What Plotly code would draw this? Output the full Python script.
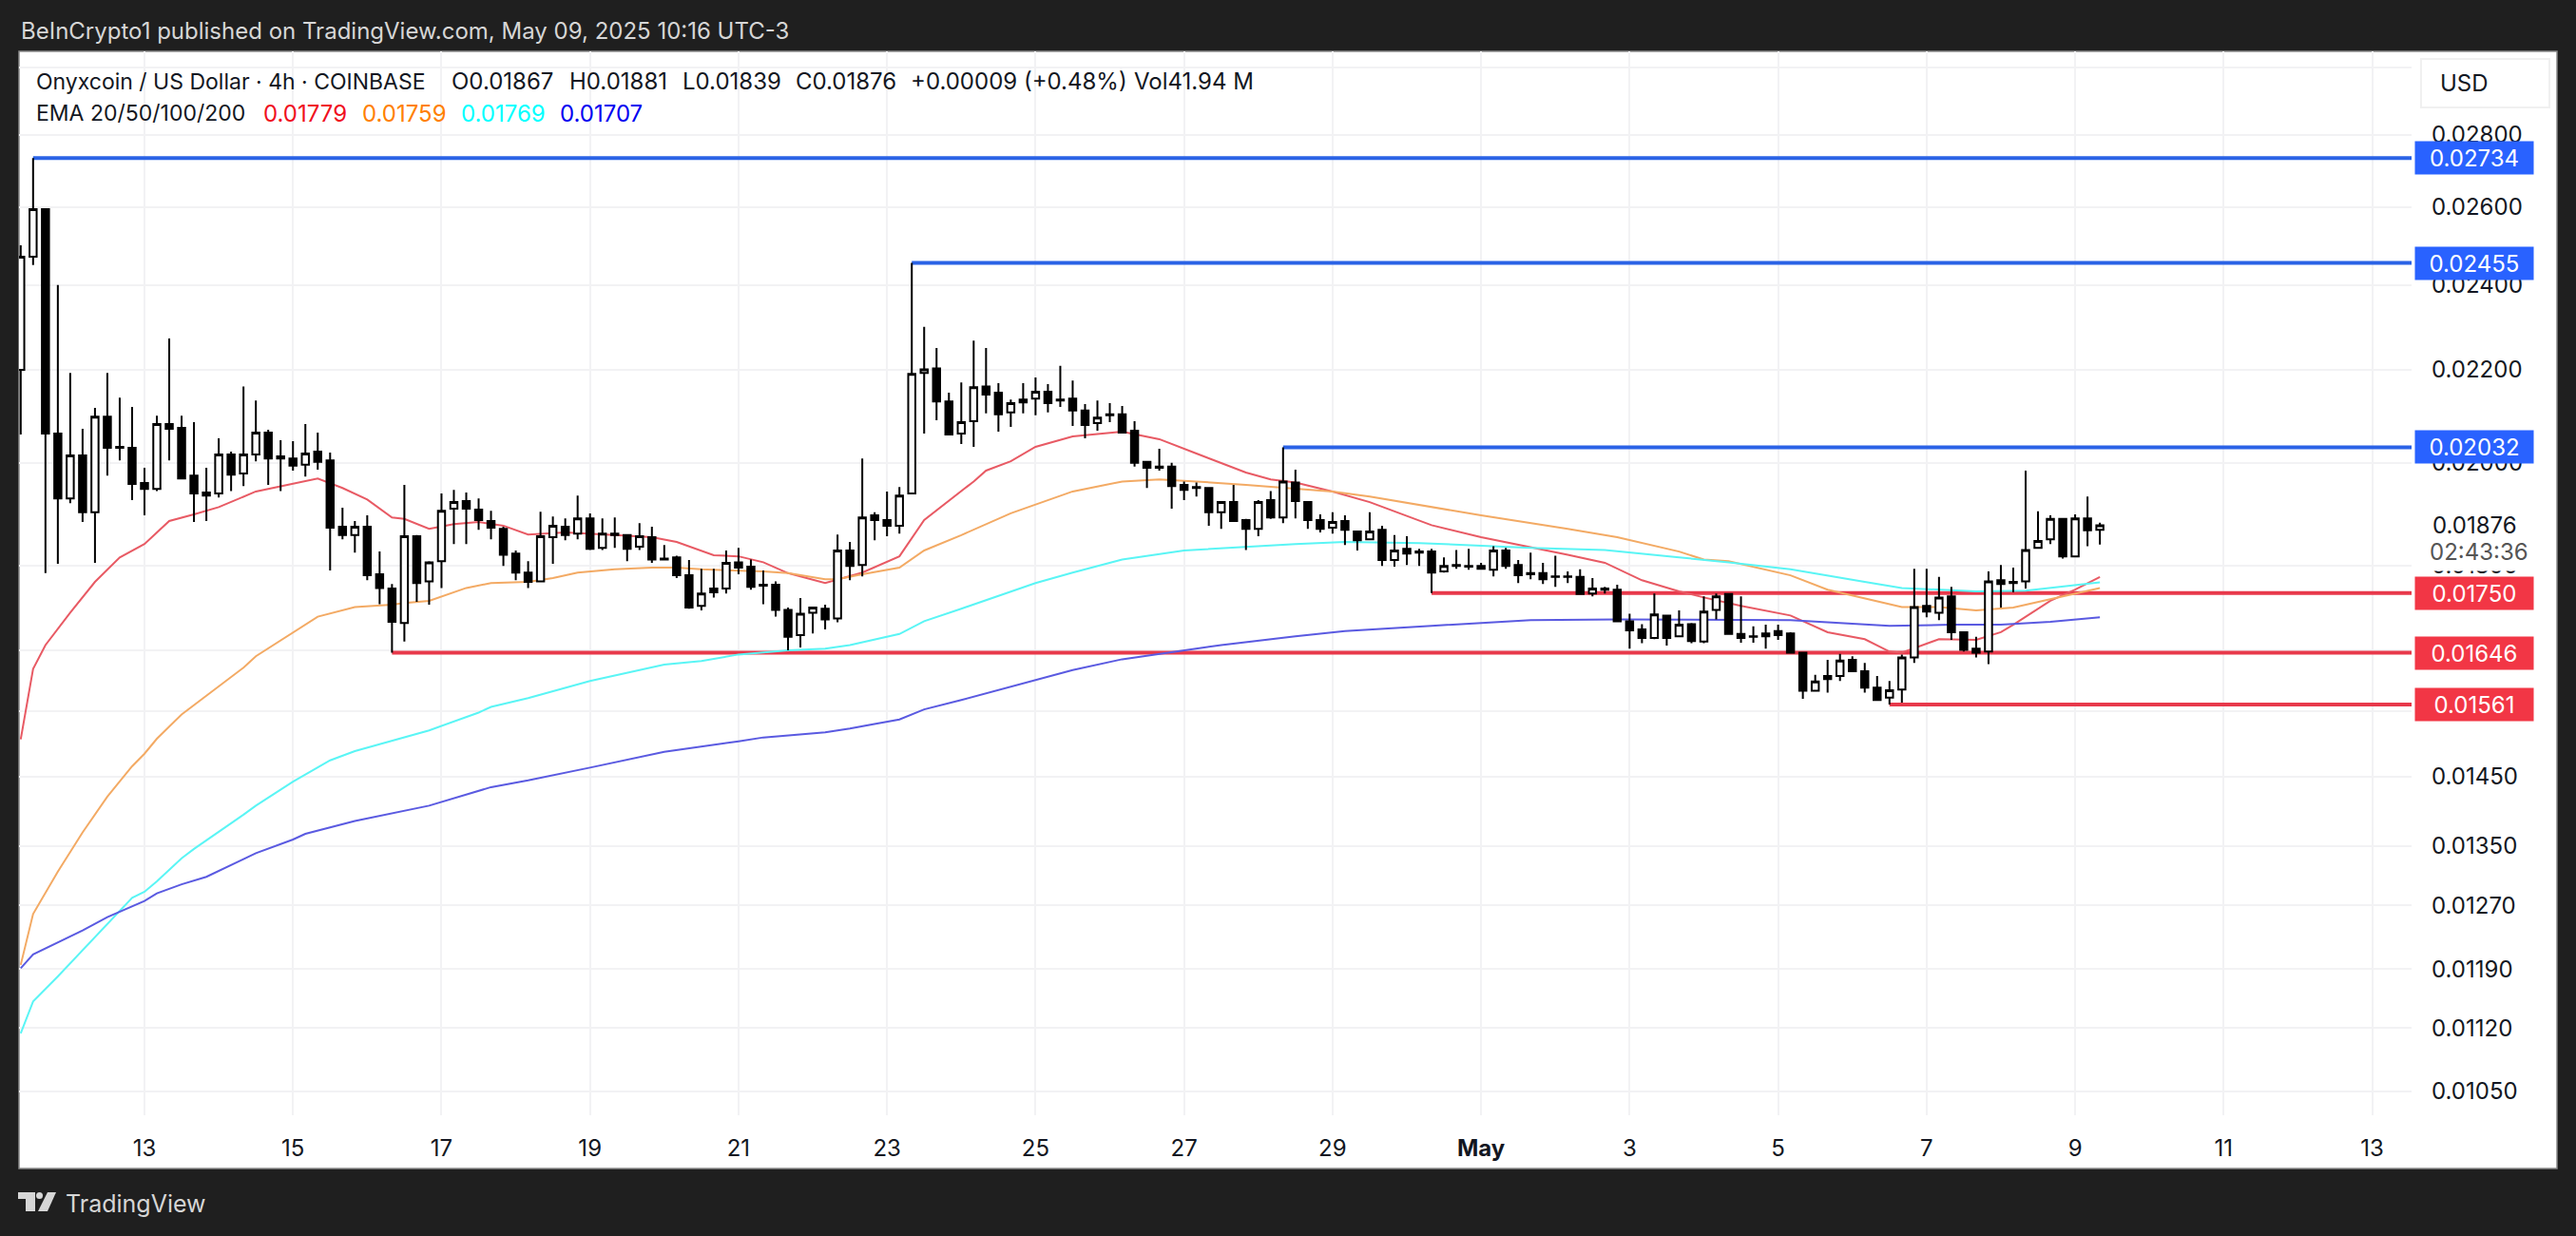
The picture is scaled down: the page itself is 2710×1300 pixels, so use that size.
import numpy as np
import pandas as pd
import plotly.graph_objects as go

# velas de 4h, la primera es la del 11 de abril 08:00
first_bar = pd.Timestamp("2025-04-11 08:00")
first_k = -10

bar_open = [
    .02200, .02471, .02594, .02061, .01928, .02015, .01901, .02097, .02033, .02031,
    .01959, .01947, .02081, .02073, .01974, .01940, .01938, .02017, .01978, .02017,
    .02063, .02013, .02009, .01996, .02023, .02005, .01873, .01857, .01873, .01784,
    .01758, .01697, .01855, .01771, .01808, .01908, .01923, .01906, .01884, .01869,
    .01822, .01787, .01771, .01853, .01873, .01860, .01889, .01833, .01860, .01857,
    .01835, .01853, .01813, .01815, .01782, .01727, .01758, .01758, .01806, .01798,
    .01765, .01765, .01720, .01676, .01715, .01722, .01705, .01828, .01801, .01895,
    .01886, .01875, .01938, .02193, .02203, .02130, .02061, .02087, .02163, .02149,
    .02106, .02128, .02136, .02151, .02134, .02136, .02110, .02083, .02102, .02102,
    .02067, .02002, .01992, .01992, .01955, .01951, .01949, .01901, .01921, .01886,
    .01869, .01925, .01891, .01960, .01921, .01886, .01871, .01884, .01864, .01849,
    .01867, .01810, .01831, .01826, .01826, .01789, .01801, .01799, .01799, .01792,
    .01828, .01801, .01786, .01786, .01780, .01780, .01779, .01749, .01758, .01756,
    .01700, .01686, .01671, .01710, .01674, .01695, .01665, .01720, .01748, .01678,
    .01674, .01674, .01683, .01679, .01646, .01583, .01607, .01607, .01634, .01615,
    .01588, .01572, .01585, .01638, .01727, .01715, .01744, .01681, .01653, .01648,
    .01773, .01770, .01771, .01833, .01849, .01888, .01817, .01889, .01867,
]
bar_high = [
    .02500, .02734, .02597, .02400, .02193, .02071, .02116, .02193, .02138, .02118,
    .01990, .02099, .02272, .02099, .02085, .01990, .02051, .02023, .02163, .02132,
    .02069, .02047, .02045, .02081, .02063, .02021, .01910, .01884, .01895, .01826,
    .01766, .01955, .01857, .01808, .01938, .01945, .01940, .01928, .01904, .01873,
    .01828, .01808, .01902, .01893, .01889, .01934, .01899, .01889, .01891, .01857,
    .01880, .01873, .01838, .01818, .01810, .01794, .01794, .01828, .01833, .01811,
    .01791, .01771, .01724, .01741, .01725, .01729, .01858, .01844, .02009, .01901,
    .01942, .01951, .02455, .02299, .02250, .02149, .02172, .02267, .02250, .02170,
    .02134, .02170, .02183, .02168, .02209, .02176, .02124, .02132, .02126, .02120,
    .02087, .02002, .02029, .02000, .01962, .01960, .01949, .01923, .01955, .01888,
    .01925, .01943, .02032, .01986, .01921, .01897, .01901, .01895, .01864, .01901,
    .01875, .01857, .01855, .01831, .01831, .01815, .01829, .01831, .01805, .01836,
    .01833, .01810, .01824, .01805, .01818, .01789, .01793, .01777, .01761, .01765,
    .01713, .01695, .01749, .01710, .01719, .01697, .01744, .01749, .01748, .01744,
    .01691, .01694, .01694, .01681, .01646, .01609, .01634, .01644, .01640, .01629,
    .01607, .01599, .01643, .01794, .01794, .01779, .01761, .01682, .01673, .01789,
    .01801, .01796, .01984, .01903, .01895, .01889, .01897, .01932, .01881,
]
bar_low = [
    .02059, .02450, .01786, .01803, .01919, .01882, .01805, .01974, .02005, .01925,
    .01895, .01943, .02005, .01966, .01882, .01884, .01930, .01943, .01953, .02003,
    .01955, .01943, .01984, .01972, .01986, .01791, .01849, .01824, .01773, .01730,
    .01646, .01665, .01734, .01729, .01759, .01840, .01840, .01867, .01849, .01799,
    .01773, .01759, .01770, .01803, .01847, .01849, .01829, .01829, .01833, .01808,
    .01829, .01805, .01811, .01777, .01722, .01719, .01742, .01749, .01784, .01756,
    .01730, .01708, .01650, .01655, .01679, .01686, .01698, .01773, .01780, .01847,
    .01855, .01860, .01938, .02061, .02089, .02059, .02039, .02033, .02104, .02065,
    .02075, .02104, .02100, .02106, .02118, .02077, .02051, .02067, .02085, .02063,
    .01992, .01949, .01984, .01908, .01925, .01932, .01875, .01869, .01884, .01829,
    .01855, .01888, .01880, .01889, .01869, .01862, .01860, .01838, .01828, .01847,
    .01799, .01798, .01801, .01799, .01750, .01787, .01794, .01792, .01792, .01780,
    .01794, .01768, .01775, .01766, .01761, .01768, .01748, .01744, .01749, .01700,
    .01653, .01662, .01669, .01658, .01674, .01662, .01662, .01703, .01678, .01663,
    .01663, .01653, .01668, .01646, .01570, .01583, .01580, .01599, .01614, .01580,
    .01568, .01561, .01564, .01629, .01707, .01702, .01668, .01648, .01638, .01627,
    .01724, .01751, .01758, .01833, .01840, .01813, .01817, .01836, .01839,
]
bar_close = [
    .02471, .02594, .02061, .01928, .02015, .01901, .02097, .02031, .02031, .01957,
    .01947, .02081, .02071, .01968, .01938, .01934, .02017, .01976, .02017, .02063,
    .02009, .02009, .01994, .02019, .02002, .01871, .01857, .01873, .01782, .01759,
    .01699, .01855, .01768, .01806, .01904, .01921, .01908, .01886, .01871, .01820,
    .01787, .01770, .01855, .01875, .01857, .01889, .01831, .01860, .01857, .01831,
    .01855, .01811, .01811, .01782, .01724, .01749, .01751, .01805, .01796, .01761,
    .01763, .01720, .01673, .01713, .01724, .01703, .01828, .01799, .01891, .01886,
    .01875, .01934, .02191, .02201, .02130, .02059, .02085, .02161, .02145, .02102,
    .02126, .02134, .02151, .02126, .02132, .02110, .02079, .02095, .02100, .02063,
    .02000, .01990, .01990, .01953, .01945, .01949, .01901, .01921, .01884, .01869,
    .01921, .01891, .01962, .01923, .01886, .01869, .01882, .01867, .01847, .01864,
    .01810, .01828, .01822, .01824, .01787, .01799, .01799, .01798, .01794, .01828,
    .01799, .01782, .01784, .01775, .01779, .01779, .01748, .01758, .01756, .01700,
    .01684, .01671, .01712, .01671, .01694, .01666, .01717, .01744, .01678, .01671,
    .01673, .01679, .01676, .01646, .01583, .01598, .01602, .01633, .01615, .01588,
    .01568, .01584, .01638, .01725, .01717, .01742, .01681, .01651, .01646, .01771,
    .01766, .01768, .01829, .01846, .01888, .01817, .01889, .01866, .01876,
]

# EMAs: numero de vela y precio
ema20_k = [-10, -9, -8, -6, -4, -2, 0, 2, 4, 6, 9, 12, 14, 16, 18, 20, 21, 23, 25, 27, 29, 31, 34, 38, 41,
           43, 46, 48, 50, 52, 55, 58, 61, 63, 66, 67, 68, 70, 72, 75, 79, 82, 85, 89, 91, 93, 96, 99,
           104, 108, 115, 118, 121, 124, 126, 129, 133, 136, 139, 141, 142, 145, 148, 150, 151, 154, 156, 158]
ema20_val = [.01506, .01619, .01659, .01715, .01770, .01815, .01840, .01884, .01897, .01911, .01942, .01957,
             .01968, .01949, .01926, .01891, .01888, .01869, .01878, .01882, .01875, .01858, .01862, .01857,
             .01853, .01844, .01819, .01817, .01806, .01786, .01768, .01787, .01817, .01886, .01942, .01962,
             .01984, .02003, .02033, .02055, .02065, .02049, .02019, .01980, .01966, .01960, .01942, .01921,
             .01876, .01853, .01820, .01805, .01773, .01753, .01742, .01727, .01710, .01681, .01669, .01648,
             .01646, .01669, .01668, .01681, .01694, .01736, .01756, .01779]
ema50_k = [-10, -9, -7, -5, -3, -1, 0, 1, 3, 5, 8, 9, 12, 14, 17, 20, 21, 23, 26, 28, 31, 33, 35, 38, 41,
           43, 45, 48, 50, 52, 55, 56, 58, 61, 63, 66, 68, 70, 75, 79, 82, 85, 89, 92, 96, 99,
           104, 108, 115, 119, 124, 126, 128, 133, 136, 139, 142, 145, 148, 151, 153, 155, 158]
ema50_val = [.01195, .01259, .01315, .01369, .01420, .01465, .01484, .01507, .01545, .01575, .01621, .01640,
             .01681, .01708, .01725, .01729, .01732, .01736, .01759, .01768, .01770, .01777, .01787, .01793,
             .01796, .01796, .01793, .01791, .01789, .01786, .01775, .01775, .01784, .01796, .01828, .01857,
             .01878, .01899, .01942, .01962, .01966, .01962, .01955, .01949, .01942, .01932,
             .01911, .01895, .01869, .01853, .01826, .01811, .01808, .01782, .01756, .01741, .01725, .01725,
             .01719, .01724, .01734, .01744, .01759]
ema100_k = [-10, -9, -7, -5, -3, -1, 0, 1, 3, 4, 8, 9, 12, 15, 17, 20, 23, 27, 28, 31, 36, 42, 45, 48, 52,
            55, 57, 61, 63, 66, 72, 75, 79, 84, 89, 93, 97, 103, 112, 118, 124, 128, 133, 137, 139, 142,
            148, 152, 155, 158]
ema100_val = [.01114, .01151, .01181, .01213, .01246, .01280, .01288, .01302, .01333, .01346, .01394, .01407,
              .01442, .01474, .01488, .01504, .01520, .01548, .01557, .01571, .01599, .01626, .01632, .01643,
              .01650, .01653, .01659, .01678, .01700, .01722, .01768, .01787, .01811, .01828, .01835, .01840,
              .01844, .01842, .01833, .01829, .01815, .01806, .01793, .01777, .01770, .01759,
              .01753, .01754, .01761, .01769]
ema200_k = [-10, -9, -5, -3, 0, 1, 3, 5, 8, 9, 12, 13, 17, 20, 23, 28, 31, 36, 42, 48, 50, 55, 57, 61, 63,
            66, 72, 75, 79, 84, 87, 93, 97, 104, 112, 119, 126, 133, 137, 141, 146, 150, 154, 158]
ema200_val = [.01191, .01208, .01238, .01255, .01276, .01286, .01298, .01308, .01332, .01340, .01359, .01367,
              .01385, .01396, .01407, .01434, .01444, .01463, .01487, .01503, .01509, .01517, .01523, .01537,
              .01553, .01568, .01601, .01617, .01635, .01650, .01659, .01674, .01683, .01692, .01702, .01703,
              .01702, .01702, .01697, .01692, .01694, .01694, .01699, .01707]

# niveles horizontales: precio y vela donde empiezan
level_val = [.02734, .02455, .02032, .01750, .01646, .01561]
level_k = [-9, 62, 92, 104, 20, 141]
level_kind = ["up", "up", "up", "down", "down", "down"]

# 0.030, 0.0165 y 0.0155 quedan tapados en el original: solo se ve su rejilla
y_ticks = [.030, .028, .026, .024, .022, .020, .018, .0165, .0155, .0145, .0135, .0127, .0119, .0112, .0105]
y_hidden = [.030, .0165, .0155]
x_tick_dates = ["2025-04-13", "2025-04-15", "2025-04-17", "2025-04-19", "2025-04-21", "2025-04-23",
                "2025-04-25", "2025-04-27", "2025-04-29", "2025-05-01", "2025-05-03", "2025-05-05",
                "2025-05-07", "2025-05-09", "2025-05-11", "2025-05-13"]
x_tick_text = ["13", "15", "17", "19", "21", "23", "25", "27", "29", "<b>May</b>", "3", "5", "7", "9", "11", "13"]

ema_colors = ["#E85A64", "#F3AA64", "#5AF5F5", "#5A5AE1"]
legend_colors = ["#F00F1E", "#FF8000", "#00FFFF", "#0000F0"]
legend_values = ["0.01779", "0.01759", "0.01769", "0.01707"]
FONT = "Inter"
LEFT, RIGHT, TOP, BOTTOM = 20, 2537, 54, 1173


def bar_time(k):
    """Fecha de la vela numero k."""
    return first_bar + pd.Timedelta(hours=4 * (k - first_k))


def px_x(px):
    return (px - LEFT) / (RIGHT - LEFT)


def px_y(py):
    return (BOTTOM - py) / (BOTTOM - TOP)


def text_note(text, x, y, size=24, color="#131722", **kw):
    """Texto suelto colocado en pixeles de la pagina."""
    return dict(text=text, x=px_x(x), y=px_y(y), xref="paper", yref="paper", xanchor="left", yanchor="middle",
                showarrow=False, font=dict(family=FONT, size=size, color=color), **kw)


x_range = [pd.Timestamp("2025-04-11 07:27"), pd.Timestamp("2025-05-13 12:44")]
y_range = [-1.9896, -1.5157]

fig = go.Figure()

for level, start, kind in zip(level_val, level_k, level_kind):
    fig.add_trace(go.Scatter(x=[bar_time(start), x_range[1]], y=[level, level], mode="lines",
                             line=dict(color="#2B63E6" if kind == "up" else "#E8394B", width=4),
                             hoverinfo="skip"))

for ks, vals, color in zip([ema20_k, ema50_k, ema100_k, ema200_k],
                           [ema20_val, ema50_val, ema100_val, ema200_val], ema_colors):
    fig.add_trace(go.Scatter(x=[bar_time(k) for k in ks], y=vals, mode="lines",
                             line=dict(color=color, width=2), hoverinfo="skip"))

# las velas van en ejes superpuestos para que queden encima de las lineas
bar_times = [bar_time(first_k + i) for i in range(len(bar_close))]
fig.add_trace(go.Candlestick(x=bar_times, open=bar_open, high=bar_high, low=bar_low, close=bar_close,
                             xaxis="x2", yaxis="y2", whiskerwidth=0,
                             increasing=dict(fillcolor="#FFFFFF", line=dict(color="#000000", width=2)),
                             decreasing=dict(fillcolor="#000000", line=dict(color="#000000", width=2))))

notes = [
    text_note("BeInCrypto1 published on TradingView.com, May 09, 2025 10:16 UTC-3", 20, 32, size=24, color="#D6D6D6"),
    text_note("TradingView", 67, 1266, size=25, color="#D6D6D6"),
]
# leyenda superior, trozo a trozo
notes.append(text_note("Onyxcoin / US Dollar · 4h · COINBASE", 36, 86, size=23))
for piece, x in [("O0.01867", 473), ("H0.01881", 597), ("L0.01839", 716), ("C0.01876", 835),
                 ("+0.00009 (+0.48%)", 956), ("Vol41.94 M", 1191)]:
    notes.append(text_note(piece, x, 86, size=24))
notes.append(text_note("EMA 20/50/100/200", 36, 119, size=23))
for value, color, x in zip(legend_values, legend_colors, [275, 379, 483, 587]):
    notes.append(text_note(value, x, 119, size=24, color=color))

# etiquetas de la escala de precios
notes.append(text_note("USD", 2565, 87, size=24))
notes.append(text_note("02:43:36", 2550, 580, size=24, color="#555555", bgcolor="#FFFFFF", borderpad=5))
notes.append(text_note("0.01876", 2557, 552, size=24))
for level, kind in zip(level_val, level_kind):
    notes.append(dict(text=f"{level:.5f}", x=px_x(2540), y=np.log10(level), xref="paper", yref="y",
                      xanchor="left", yanchor="middle", showarrow=False, width=124, height=34, borderpad=0,
                      bgcolor="#2962FF" if kind == "up" else "#F23645",
                      font=dict(family=FONT, size=24, color="#FFFFFF")))

shapes = [
    # panel blanco y boton de la moneda
    dict(type="rect", xref="paper", yref="paper", layer="below", x0=0, x1=px_x(2690), y0=px_y(1229), y1=1,
         fillcolor="#FFFFFF", line=dict(color="#8A8A8A", width=1.5)),
    dict(type="rect", xref="paper", yref="paper", x0=px_x(2547), x1=px_x(2682), y0=px_y(113), y1=px_y(62),
         fillcolor="#FFFFFF", line=dict(color="#F0F0F0", width=2)),
    # logo
    dict(type="path", xref="paper", yref="paper", fillcolor="#D6D6D6", line=dict(width=0),
         path=f"M {px_x(19)} {px_y(1254)} L {px_x(37)} {px_y(1254)} L {px_x(37)} {px_y(1274)} L {px_x(27)} {px_y(1274)} "
              f"L {px_x(27)} {px_y(1261)} L {px_x(19)} {px_y(1261)} Z"),
    dict(type="circle", xref="paper", yref="paper", fillcolor="#D6D6D6", line=dict(width=0),
         x0=px_x(38), x1=px_x(45), y0=px_y(1261), y1=px_y(1254)),
    dict(type="path", xref="paper", yref="paper", fillcolor="#D6D6D6", line=dict(width=0),
         path=f"M {px_x(50)} {px_y(1254)} L {px_x(59)} {px_y(1254)} L {px_x(50)} {px_y(1274)} L {px_x(40)} {px_y(1274)} Z"),
]

fig.update_layout(
    width=2710, height=1300, showlegend=False, paper_bgcolor="#1F1F1F", plot_bgcolor="#FFFFFF",
    margin=dict(l=LEFT, r=2710 - RIGHT, t=TOP, b=1300 - BOTTOM, pad=0),
    annotations=notes, shapes=shapes, boxgap=0.18,
    xaxis=dict(type="date", range=x_range, tickmode="array", tickvals=x_tick_dates, ticktext=x_tick_text,
               showgrid=True, gridcolor="#F2F2F4", gridwidth=2, zeroline=False, showline=False, ticks="",
               ticklabelstandoff=18, tickfont=dict(family=FONT, size=24, color="#131722")),
    yaxis=dict(type="log", range=y_range, side="right", tickmode="array", tickvals=y_ticks,
               ticktext=["" if v in y_hidden else f"{v:.5f}" for v in y_ticks], showgrid=True,
               gridcolor="#F2F2F4", gridwidth=2, zeroline=False, showline=False, ticks="", ticklabelstandoff=20,
               tickfont=dict(family=FONT, size=24, color="#131722")),
    xaxis2=dict(type="date", range=x_range, overlaying="x", visible=False, rangeslider=dict(visible=False)),
    yaxis2=dict(type="log", range=y_range, overlaying="y", visible=False),
)

fig.write_html("out.html", config={"displayModeBar": False},
               post_script="document.body.style.margin='0';document.body.style.overflow='hidden';")
